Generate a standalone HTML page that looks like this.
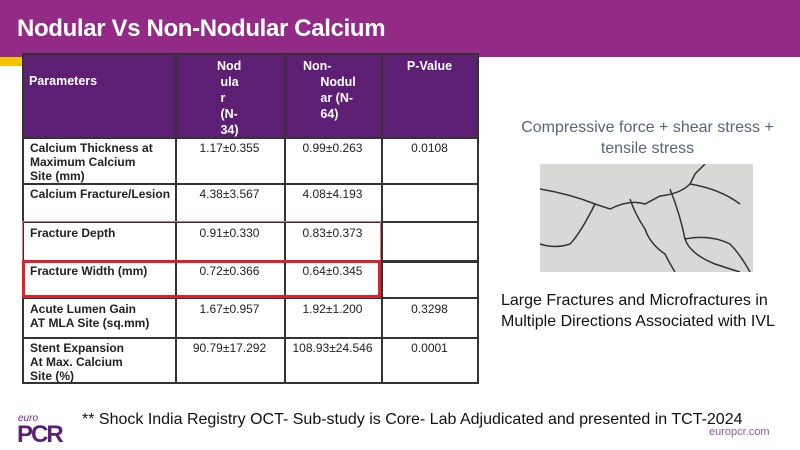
<!DOCTYPE html>
<html><head><meta charset="utf-8"><style>
*{margin:0;padding:0;box-sizing:border-box}
body{width:800px;height:450px;position:relative;background:#fff;font-family:"Liberation Sans",sans-serif;overflow:hidden}
.band{position:absolute;left:0;top:0;width:800px;height:57px;background:#922a86}
.yel{position:absolute;left:0;top:57px;width:30px;height:9px;background:#f5c400}
.title{position:absolute;left:17px;top:15px;color:#fff;font-size:24px;font-weight:bold;letter-spacing:-0.35px}
.hd{position:absolute;left:22px;top:53px;width:456px;height:84px;background:#5c1f74}
.v{position:absolute;width:1.5px;background:#333}
.hl{position:absolute;left:22px;width:457px;height:1.5px;background:#333}
.t{position:absolute;font-size:12px;color:#222;line-height:14px;white-space:nowrap}
.b{font-weight:bold}
.c{text-align:center}
.w{color:#fff;font-weight:bold;font-size:12.5px;line-height:16px}
.box{position:absolute;left:22px;width:359px;border:2px solid #e8333a}
</style></head><body>
<div class="band"></div><div class="yel"></div>
<div class="title">Nodular Vs Non-Nodular Calcium</div>
<div class="hd"></div>
<div class="v" style="left:22px;top:53px;height:330px"></div>
<div class="v" style="left:175px;top:53px;height:330px"></div>
<div class="v" style="left:284px;top:53px;height:330px"></div>
<div class="v" style="left:381px;top:53px;height:330px"></div>
<div class="v" style="left:477px;top:53px;height:330px"></div>
<div class="hl" style="top:53px"></div>
<div class="hl" style="top:137px"></div>
<div class="hl" style="top:183px"></div>
<div class="hl" style="top:221px"></div>
<div class="hl" style="top:260px;height:2.5px"></div>
<div class="hl" style="top:297px"></div>
<div class="hl" style="top:337px"></div>
<div class="hl" style="top:382px"></div>

<div class="t w" style="left:29px;top:73px">Parameters</div>
<div class="t w" style="left:217px;top:58px">Nod<br>&nbsp;ula<br>&nbsp;r<br>&nbsp;(N-<br>&nbsp;34)</div>
<div class="t w" style="left:303px;top:58px">Non-<br>&nbsp;&nbsp;&nbsp;&nbsp;&nbsp;Nodul<br>&nbsp;&nbsp;&nbsp;&nbsp;&nbsp;ar (N-<br>&nbsp;&nbsp;&nbsp;&nbsp;&nbsp;64)</div>
<div class="t w c" style="left:381px;width:97px;top:58px">P-Value</div>

<div class="t b" style="left:30px;top:141px">Calcium Thickness at<br>Maximum Calcium<br>Site (mm)</div>
<div class="t b" style="left:30px;top:187px">Calcium Fracture/Lesion</div>
<div class="t b" style="left:30px;top:226px">Fracture Depth</div>
<div class="t b" style="left:30px;top:264px">Fracture Width (mm)</div>
<div class="t b" style="left:30px;top:302px">Acute Lumen Gain<br>AT MLA Site (sq.mm)</div>
<div class="t b" style="left:30px;top:341px">Stent Expansion<br>At Max. Calcium<br>Site (%)</div>

<div class="t c" style="left:175px;width:109px;top:141px">1.17±0.355</div>
<div class="t c" style="left:284px;width:97px;top:141px">0.99±0.263</div>
<div class="t c" style="left:381px;width:97px;top:141px">0.0108</div>
<div class="t c" style="left:175px;width:109px;top:187px">4.38±3.567</div>
<div class="t c" style="left:284px;width:97px;top:187px">4.08±4.193</div>
<div class="t c" style="left:175px;width:109px;top:226px">0.91±0.330</div>
<div class="t c" style="left:284px;width:97px;top:226px">0.83±0.373</div>
<div class="t c" style="left:175px;width:109px;top:264px">0.72±0.366</div>
<div class="t c" style="left:284px;width:97px;top:264px">0.64±0.345</div>
<div class="t c" style="left:175px;width:109px;top:302px">1.67±0.957</div>
<div class="t c" style="left:284px;width:97px;top:302px">1.92±1.200</div>
<div class="t c" style="left:381px;width:97px;top:302px">0.3298</div>
<div class="t c" style="left:175px;width:109px;top:341px">90.79±17.292</div>
<div class="t c" style="left:284px;width:97px;top:341px">108.93±24.546</div>
<div class="t c" style="left:381px;width:97px;top:341px">0.0001</div>

<div class="box" style="top:221px;height:40px;border-width:1.5px;border-color:#ee6a70"></div>
<div class="box" style="top:260px;height:38px;border-width:3px;border-color:#e02028"></div>
<div style="position:absolute;left:490px;top:117px;width:315px;text-align:center;color:#5b6573;font-size:16px;line-height:21px">Compressive force + shear stress +<br>tensile stress</div>
<svg style="position:absolute;left:540px;top:164px" width="213" height="108" viewBox="0 0 213 108">
<rect width="213" height="108" fill="#d8d8d6"/>
<g fill="none" stroke="#333" stroke-width="1.5">
<path d="M0 25 Q30 30 55 40 L70 45 Q90 35 105 40 L120 32 Q140 30 150 20 L155 10 Q160 5 165 0"/>
<path d="M55 40 Q40 70 30 80 Q15 85 0 80"/>
<path d="M90 35 Q95 50 105 65 Q110 80 125 90 Q130 100 135 108"/>
<path d="M130 25 Q140 50 145 75 Q150 90 175 100 Q190 105 200 108"/>
<path d="M145 75 Q170 70 190 80 Q200 90 210 108"/>
<path d="M150 20 Q180 25 200 40"/>
</g></svg>
<div style="position:absolute;left:501px;top:290px;font-size:16px;line-height:21px;color:#111;white-space:nowrap">Large Fractures and Microfractures in<br>Multiple Directions Associated with IVL</div>
<div style="position:absolute;left:18px;top:413px;color:#6b2a7e;font-size:10px;font-style:italic">euro</div>
<div style="position:absolute;left:17px;top:421px;color:#5c1f74;font-size:24px;font-weight:bold;letter-spacing:-2px">PCR</div>
<div style="position:absolute;left:82px;top:411px;font-size:16px;color:#111;white-space:nowrap;letter-spacing:0px">** Shock India Registry OCT- Sub-study is Core- Lab Adjudicated and presented in TCT-2024</div>
<div style="position:absolute;left:709px;top:426px;font-size:11px;color:#8a5a99">europcr.com</div>
</body></html>
